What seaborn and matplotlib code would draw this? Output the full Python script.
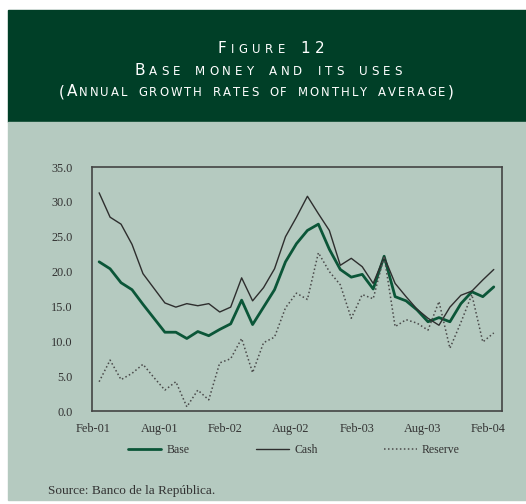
import matplotlib
matplotlib.use("Agg")
import matplotlib.pyplot as plt
from matplotlib.patches import Rectangle
from matplotlib.font_manager import FontProperties
import seaborn as sns
import pandas as pd
import numpy as np

# monthly data, Feb-01 .. Feb-04 (annual growth %, monthly average)
months = pd.date_range("2001-02-01", "2004-02-01", freq="MS")
base = [21.4, 20.4, 18.4, 17.4, 15.3, 13.3, 11.3, 11.3, 10.4, 11.4,
        10.8, 11.7, 12.5, 15.9, 12.4, 14.9, 17.4, 21.4, 24.0, 25.9,
        26.8, 23.2, 20.3, 19.2, 19.6, 17.5, 22.2, 16.4, 15.8, 14.5,
        12.8, 13.4, 12.8, 15.4, 17.1, 16.4, 17.8]
cash = [31.3, 27.8, 26.8, 23.9, 19.7, 17.6, 15.5, 14.9, 15.4, 15.1,
        15.4, 14.2, 14.9, 19.1, 15.8, 17.7, 20.4, 25.0, 27.8, 30.8,
        28.3, 25.9, 20.9, 21.9, 20.7, 18.3, 22.1, 18.3, 16.4, 14.6,
        13.3, 12.3, 14.9, 16.6, 17.2, 18.8, 20.3]
reserve = [4.2, 7.3, 4.5, 5.4, 6.7, 4.8, 3.0, 4.2, 0.6, 3.0,
           1.6, 6.9, 7.5, 10.4, 5.5, 9.8, 10.6, 14.8, 16.9, 16.0,
           22.7, 20.0, 18.1, 13.3, 16.7, 16.1, 22.2, 12.1, 13.1, 12.6,
           11.6, 15.7, 9.0, 12.7, 16.7, 9.9, 11.2]
tick_labels = ["Feb-01", "Aug-01", "Feb-02", "Aug-02", "Feb-03", "Aug-03", "Feb-04"]

df = pd.DataFrame({"t": np.arange(len(months)), "Base": base, "Cash": cash, "Reserve": reserve})

W, H = 526, 504
HEADER = "#003f27"
PANEL = "#b5cac0"
INK = "#333333"

sns.set_style("white")
fig = plt.figure(figsize=(W / 100, H / 100), dpi=100, facecolor="white")

def box(x0, y0, x1, y1, color):
    fig.patches.append(Rectangle((x0 / W, 1 - y1 / H), (x1 - x0) / W, (y1 - y0) / H,
                                 transform=fig.transFigure, color=color, zorder=-5))

box(8, 10, W, 122, HEADER)
box(8, 122, W, 500, PANEL)

# small caps title, drawn letter by letter
renderer = fig.canvas.get_renderer()

def small_caps(text, xc, base_y, big, small, track, family="DejaVu Sans"):
    items = []
    for ch in text:
        if ch == " ":
            items.append((None, big * 100 / 72 * 0.45))
            continue
        size = small if ch.islower() else big
        c = ch.upper()
        w, _, _ = renderer.get_text_width_height_descent(c, FontProperties(family=family, size=size), ismath=False)
        items.append(((c, size), w))
    total = sum(w for _, w in items) + track * (len(items) - 1)
    x = xc - total / 2
    for it, w in items:
        if it is not None:
            fig.text(x / W, 1 - base_y / H, it[0], fontsize=it[1], family=family,
                     color="white", ha="left", va="baseline")
        x += w + track

small_caps("Figure 12", 271, 52.7, 11.0, 8.4, 4.4)
small_caps("Base money and its uses", 268, 75, 11.2, 8.6, 4.0)
small_caps("(Annual growth rates of monthly average)", 256, 96.3, 11.0, 8.4, 2.0)

# chart
ax = fig.add_axes([92 / W, 1 - 411 / H, (502 - 92) / W, (411 - 167) / H])
ax.set_facecolor("none")
sns.lineplot(data=df, x="t", y="Base", ax=ax, color="#0b5638", lw=2.0, label="Base")
sns.lineplot(data=df, x="t", y="Cash", ax=ax, color="#2e2e2e", lw=1.0, label="Cash")
sns.lineplot(data=df, x="t", y="Reserve", ax=ax, color="#4a4a4a", lw=1.1,
             linestyle=(0, (1, 1.6)), label="Reserve")

ax.set_xlim(-0.65, 36.75)
ax.set_ylim(0, 35)
ax.set_xticks(np.arange(len(tick_labels)) * 6 - 0.5)
ax.set_xticklabels(tick_labels)
ax.set_yticks(np.arange(0, 36, 5))
ax.set_yticklabels([f"{v:.1f}" for v in np.arange(0, 36, 5)])
ax.set_xlabel("")
ax.set_ylabel("")
for s in ax.spines.values():
    s.set_visible(True)
    s.set_color("#444444")
    s.set_linewidth(1.2)
ax.tick_params(axis="both", direction="in", length=4, width=1, color="#444444",
               labelsize=8.8, labelcolor=INK)
ax.tick_params(axis="y", pad=14)
ax.tick_params(axis="x", pad=8.5)
for lab in ax.get_xticklabels() + ax.get_yticklabels():
    lab.set_family("Liberation Serif")

leg = ax.legend(loc="center", bbox_to_anchor=(294 / W, 1 - 450 / H), bbox_transform=fig.transFigure,
                ncol=3, frameon=False, handlelength=2.8, handletextpad=0.45, columnspacing=5.6,
                prop=FontProperties(family="Liberation Serif", size=8.5))
for t in leg.get_texts():
    t.set_color(INK)

fig.text(48 / W, 1 - 491 / H, "Source: Banco de la República.", family="Liberation Serif",
         fontsize=9.5, color=INK, ha="left", va="center")

fig.savefig("out.png", dpi=100, facecolor="white")
